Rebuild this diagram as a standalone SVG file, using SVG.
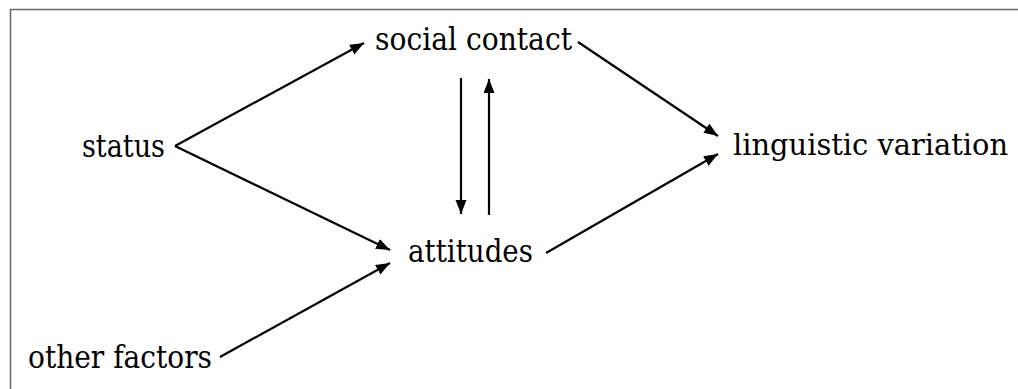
<svg xmlns="http://www.w3.org/2000/svg" width="1018" height="389" viewBox="0 0 1018 389">
<style>
.c line{stroke:#000;stroke-width:2.2;marker-end:url(#ah)}
.frame{stroke:#666;stroke-width:1.5;fill:none}
</style>
<defs>
<marker id="ah" markerUnits="userSpaceOnUse" markerWidth="15" markerHeight="12" refX="14" refY="5.5" orient="auto">
<path d="M0,0 L14,5.5 L0,11 z" fill="#000"/>
</marker>
</defs>
<rect width="1018" height="389" fill="#fff"/>
<path class="frame" d="M10.5,389 L10.5,9.5 L1018,9.5"/>
<g font-family="DejaVu Serif, serif" font-size="31" fill="#000">
<g id="status"><text x="82" y="157" textLength="83" lengthAdjust="spacingAndGlyphs">status</text></g>
<g id="social-contact"><text x="375" y="50" textLength="197" lengthAdjust="spacingAndGlyphs">social contact</text></g>
<g id="attitudes"><text x="408" y="262" textLength="125" lengthAdjust="spacingAndGlyphs">attitudes</text></g>
<g id="other-factors"><text x="28" y="368" textLength="184" lengthAdjust="spacingAndGlyphs">other factors</text></g>
<g id="linguistic-variation"><text x="733" y="155" font-size="29" textLength="275" lengthAdjust="spacingAndGlyphs">linguistic variation</text></g>
</g>
<g id="connectors" class="c">
<line x1="175" y1="146" x2="364" y2="43"/>
<line x1="175" y1="146" x2="390" y2="250"/>
<line x1="220" y1="357" x2="390" y2="263"/>
<line x1="578" y1="42" x2="718" y2="136"/>
<line x1="546" y1="253" x2="718" y2="154"/>
<line x1="461" y1="78" x2="461" y2="214"/>
<line x1="489" y1="215" x2="489" y2="79"/>
</g>
</svg>
